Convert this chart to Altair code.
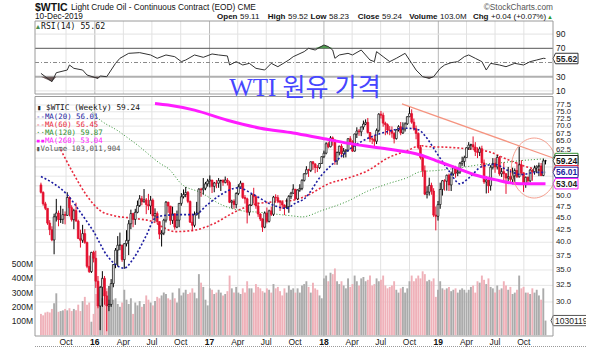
import altair as alt
import pandas as pd

# ---------------- data (weekly bars, week starting Monday 2015-07-13) ----------------
first_open = 52.74
closes = [
    50.89, 48.14, 47.12, 43.87, 42.50, 40.45, 45.22, 46.05, 44.63, 44.68, 45.70, 45.54, 49.63, 47.26, 44.60, 46.59,
    44.29, 40.74, 40.39, 41.71, 39.97, 35.62, 34.73, 38.10, 37.04,
    33.16, 29.42, 32.19, 33.62, 30.89, 29.44, 29.64, 32.78, 35.92, 38.50, 39.44, 39.46, 36.79, 39.72, 40.36, 43.73,
    45.92, 44.66, 46.21, 47.75, 49.33, 48.62, 49.07, 47.98, 47.64, 48.99, 45.41, 45.95, 44.19, 41.60, 41.80, 44.49,
    48.52, 47.64, 44.44, 45.88, 43.03, 44.48, 48.24, 49.81, 50.35, 50.85, 48.70, 44.07, 43.41, 45.69, 46.06, 51.68,
    51.50, 51.90, 53.02, 53.72,
    53.99, 52.37, 53.22, 53.17, 53.83, 53.86, 53.40, 53.99, 53.33, 48.49, 48.78, 47.97, 50.60, 52.24, 53.18, 49.62,
    49.33, 46.22, 47.84, 50.33, 49.80, 47.66, 45.83, 44.74, 43.01, 46.04, 44.23, 46.54, 45.77, 49.71, 49.58, 48.82,
    48.51, 47.87, 47.29, 47.48, 49.89, 50.66, 51.67, 49.29, 51.45, 51.84, 53.90, 55.64, 56.74, 56.55, 58.95, 58.36,
    57.36, 57.30, 58.47, 60.42,
    61.44, 64.30, 63.37, 66.14, 65.45, 59.20, 61.68, 63.55, 61.25, 62.04, 62.34, 65.88, 64.94, 62.06, 67.39, 68.38,
    68.10, 69.72, 70.70, 71.28, 67.88, 65.81, 65.74, 65.06, 68.58, 74.15, 73.80, 71.01, 70.46, 68.69, 68.49, 67.63,
    65.91, 68.72, 69.80, 67.75, 68.99, 70.78, 73.25, 74.34, 71.34, 69.12, 67.59, 63.14, 60.19, 56.46, 50.42, 50.93,
    52.61, 51.20, 45.59, 45.33,
    47.96, 51.59, 53.80, 53.69, 55.26, 52.72, 55.59, 57.26, 55.80, 56.07, 58.52, 59.04, 60.14, 63.08, 63.89, 64.00,
    63.30, 61.94, 61.66, 62.76, 58.63, 53.50, 54.00, 52.51, 57.43, 58.47, 57.51, 60.21, 55.63, 56.20, 55.66, 54.50,
    54.87, 54.17, 55.10, 56.52, 54.85, 58.09, 55.91, 52.81, 54.70, 53.78, 56.66, 56.20, 57.24, 57.72, 57.77, 55.17,
    59.20, 59.24,
]
highs = [
    53.3, 51.1, 48.6, 46.8, 44.5, 43.2, 45.9, 49.3, 46.6, 47.7, 47.0, 46.4, 50.9, 49.9, 47.8, 47.0, 48.4, 44.6, 42.5,
    43.5, 42.6, 40.1, 37.5, 38.2, 38.4,
    38.4, 34.0, 32.4, 34.8, 34.0, 31.6, 32.4, 33.5, 36.0, 38.9, 41.2, 41.9, 39.5, 39.8, 42.4, 44.5, 46.8, 46.1, 47.0,
    48.9, 50.2, 50.0, 51.7, 49.5, 50.5, 50.0, 49.4, 47.1, 46.4, 44.2, 42.4, 44.8, 48.8, 48.6, 47.6, 47.5, 46.0, 46.6,
    48.3, 50.7, 51.6, 52.2, 51.2, 48.9, 45.9, 46.4, 48.6, 51.9, 52.0, 54.5, 53.5, 54.3,
    55.2, 54.0, 53.5, 54.0, 54.5, 54.1, 54.2, 54.9, 54.5, 53.8, 49.1, 49.2, 50.9, 52.9, 53.8, 53.2, 50.2, 49.6, 48.0,
    50.5, 52.0, 50.2, 48.5, 46.0, 44.9, 46.4, 47.3, 46.8, 47.5, 50.0, 50.4, 50.2, 49.0, 48.6, 48.0, 49.4, 50.2, 51.0,
    52.9, 51.7, 51.6, 52.9, 54.2, 55.8, 57.7, 57.0, 59.0, 59.1, 58.5, 58.0, 58.6, 60.5,
    62.2, 64.8, 64.9, 66.7, 66.6, 65.6, 61.9, 63.7, 64.2, 63.0, 62.6, 66.0, 66.7, 65.4, 67.5, 69.6, 69.0, 69.8, 71.9,
    72.3, 72.8, 68.0, 66.3, 67.1, 69.2, 74.5, 75.3, 74.7, 71.5, 70.9, 70.0, 69.9, 67.9, 69.0, 70.3, 71.4, 71.3, 71.3,
    73.4, 76.9, 75.9, 72.6, 70.2, 67.9, 63.9, 60.7, 57.9, 52.4, 54.6, 53.3, 51.9, 47.5,
    48.8, 53.3, 54.0, 54.2, 55.4, 55.7, 56.2, 57.8, 57.8, 57.4, 58.9, 60.4, 60.7, 63.2, 64.8, 64.3, 66.6, 64.8, 63.2,
    63.4, 63.7, 59.6, 55.0, 54.8, 58.0, 60.0, 60.0, 60.9, 60.6, 57.2, 58.8, 55.8, 57.5, 56.9, 57.3, 57.1, 58.8, 63.4,
    59.4, 56.0, 54.9, 54.9, 56.9, 56.9, 57.9, 57.9, 58.7, 58.6, 59.8, 59.5,
]
lows = [
    50.6, 47.7, 46.7, 43.5, 41.4, 40.2, 37.75, 44.2, 43.2, 43.9, 43.7, 43.6, 45.4, 45.3, 44.2, 42.6, 44.2, 40.6, 38.99,
    39.9, 39.7, 35.3, 34.5, 34.5, 36.3,
    32.1, 29.1, 26.19, 29.3, 29.6, 26.05, 28.7, 29.3, 32.2, 35.3, 35.6, 38.5, 36.4, 35.2, 39.2, 37.6, 42.6, 43.0, 43.5,
    46.0, 47.4, 47.8, 48.4, 45.8, 46.7, 45.8, 44.4, 44.2, 43.7, 40.6, 39.19, 41.4, 44.0, 46.1, 43.5, 43.7, 42.5, 42.8,
    43.0, 47.7, 49.4, 49.7, 48.3, 43.9, 42.2, 43.0, 45.5, 44.8, 49.8, 50.3, 51.4, 52.3,
    52.1, 50.7, 50.9, 51.9, 52.0, 51.2, 52.5, 53.1, 52.6, 48.3, 47.1, 47.0, 47.1, 50.2, 52.1, 49.3, 48.2, 43.8, 45.5,
    47.7, 48.2, 47.0, 45.2, 44.3, 42.05, 42.8, 43.8, 44.0, 45.4, 45.4, 48.4, 48.3, 46.5, 47.0, 45.6, 47.0, 46.1, 49.3,
    50.5, 49.1, 49.0, 51.0, 51.4, 53.6, 55.5, 54.8, 56.1, 56.7, 55.8, 56.1, 56.9, 58.4,
    60.0, 61.1, 62.9, 63.2, 63.7, 58.1, 58.1, 60.8, 60.2, 60.1, 60.2, 61.9, 64.2, 61.8, 61.9, 66.1, 66.8, 66.7, 68.8,
    70.3, 67.5, 64.8, 64.2, 63.6, 64.2, 67.9, 72.6, 69.8, 67.0, 67.3, 67.0, 66.2, 64.4, 65.6, 68.2, 67.0, 67.4, 68.2,
    70.4, 73.1, 70.8, 68.5, 65.7, 62.6, 59.6, 54.8, 50.2, 49.4, 50.1, 50.3, 45.2, 42.36,
    44.4, 47.0, 50.1, 51.3, 51.3, 51.2, 51.2, 55.1, 54.6, 55.0, 55.6, 57.8, 57.6, 60.1, 62.4, 62.5, 62.5, 60.6, 60.0,
    60.6, 57.3, 53.0, 50.6, 50.7, 51.3, 56.8, 55.9, 56.8, 55.1, 54.8, 53.6, 50.5, 53.7, 53.5, 52.9, 53.0, 54.5, 54.6,
    55.3, 50.99, 52.0, 52.8, 53.4, 53.8, 55.4, 55.8, 55.0, 55.0, 55.0, 58.2,
]
volumes_m = [
    150, 140, 160, 165, 160, 185, 225, 295, 165, 170, 175, 185, 175, 190, 170, 185, 175, 215, 170, 240, 270, 215, 230, 95, 150,
    290, 300, 320, 260, 300, 330, 250, 240, 250, 260, 220, 200, 230, 320, 250, 220, 260, 150, 230, 210, 240, 200, 220, 280,
    250, 230, 210, 240, 270, 260, 280, 300, 290, 260, 250, 300, 260, 230, 330, 280, 300, 320, 290, 300, 330, 300, 260, 430,
    370, 340, 250, 210,
    330, 320, 290, 300, 320, 300, 280, 290, 310, 420, 330, 300, 340, 300, 290, 330, 300, 380, 330, 330, 300, 360, 340, 330,
    310, 300, 330, 320, 300, 360, 330, 340, 310, 280, 330, 300, 350, 320, 330, 300, 330, 300, 350, 360, 380, 340, 300, 370,
    330, 320, 280, 260,
    400, 420, 380, 440, 430, 470, 380, 360, 380, 350, 330, 400, 340, 360, 420, 380, 350, 400, 410, 380, 390, 420, 350, 360,
    400, 380, 390, 420, 350, 330, 340, 350, 380, 320, 300, 330, 340, 300, 330, 380, 420, 380, 400, 420, 400, 450, 430, 380,
    390, 380, 400, 270,
    320, 380, 330, 320, 330, 340, 310, 320, 330, 300, 320, 330, 320, 300, 320, 340, 350, 300, 380, 370, 420, 390, 360, 400,
    340, 330, 300, 350, 320, 330, 380, 350, 320, 340, 290, 300, 320, 420, 330, 340, 300, 300, 290, 330, 300, 320, 280, 250,
    330, 103,
]

# indicator readings (week index, value)
rsi_idx = [0, 5, 7, 12, 13, 15, 19, 21, 26, 27, 30, 34, 36, 40, 45, 50, 53, 57, 61, 64, 66, 70, 74, 78, 81, 85, 86, 89,
           92, 95, 98, 102, 105, 108, 113, 115, 120, 122, 125, 129, 131, 133, 134, 136, 140, 142, 146, 150, 152, 153,
           156, 159, 162, 166, 169, 171, 174, 177, 179, 182, 184, 187, 190, 193, 195, 198, 201, 203, 205, 209, 212,
           216, 220, 223, 226, 229, 230]
rsi_val = [34.7, 23, 35.6, 39.4, 46.5, 41.8, 39.4, 32.4, 27.6, 31, 30, 48.8, 55.9, 62.9, 63.9, 60.6, 55.9, 60.6, 58.2,
           51.2, 53.5, 60.6, 57.3, 62, 60.6, 59.2, 46.5, 51.2, 46.5, 48.8, 41.8, 39.4, 48.8, 44.1, 53.5, 58.2, 65.3, 70,
           67.6, 74.7, 72.4, 67.6, 55.9, 60.6, 62.9, 60.6, 67.6, 53.5, 51.2, 65.3, 58.2, 51.2, 55.9, 62.9, 48.8, 39.4,
           30, 27.6, 30, 41.8, 46.5, 49.8, 51.2, 58.2, 60.6, 55.9, 51.2, 39.4, 48.8, 46.5, 44.1, 48.8, 46.5, 51.2, 53.5,
           55.9, 55.62]

ma20_idx = [0, 6, 12, 18, 24, 30, 38, 42, 48, 52, 56, 64, 70, 76, 82, 90, 97, 105, 112, 116, 120, 128, 136, 143, 149,
            158, 166, 172, 176, 180, 186, 191, 195, 201, 207, 213, 219, 225, 230]
ma20_val = [54.9, 53.0, 50.3, 46.2, 42.1, 37.6, 35.3, 36.9, 41.3, 44.9, 45.5, 45.7, 45.7, 48.0, 50.3, 52.0, 50.3, 48.0,
            47.1, 48.3, 49.3, 55.3, 60.0, 63.7, 66.0, 68.2, 69.3, 68.8, 66.0, 61.9, 56.4, 53.0, 54.5, 57.6, 58.2, 56.5,
            55.4, 56.0, 56.01]
ma60_idx = [9, 15, 21, 27, 33, 42, 51, 56, 61, 70, 79, 88, 97, 106, 115, 122, 131, 140, 149, 158, 167, 173, 177, 186,
            195, 204, 213, 221, 229, 230]
ma60_val = [62.5, 55.5, 50.0, 46.6, 45.5, 44.9, 44.2, 42.9, 42.1, 42.4, 43.8, 46.2, 48.0, 48.6, 49.0, 50.3, 53.0, 54.5,
            56.5, 60.0, 62.2, 63.7, 63.4, 63.2, 62.7, 61.9, 59.5, 57.6, 56.5, 56.45]
ma120_idx = [22, 24, 36, 44, 55, 58, 64, 73, 82, 91, 100, 109, 115, 119, 128, 140, 149, 158, 167, 173, 180, 189, 201,
             210, 219, 229, 230]
ma120_val = [76.5, 74.4, 68.0, 63.9, 58.2, 57.1, 53.0, 50.8, 48.0, 46.6, 46.2, 45.7, 45.4, 45.2, 46.6, 48.8, 51.2, 53.0,
             54.6, 56.2, 56.5, 57.1, 58.2, 58.7, 59.3, 59.8, 59.87]
ma260_idx = [52, 58, 70, 85, 100, 115, 128, 143, 158, 173, 180, 189, 198, 207, 216, 222, 230]
ma260_val = [78.1, 77.5, 75.6, 72.0, 69.3, 67.7, 66.0, 64.1, 62.7, 60.9, 59.3, 57.3, 55.3, 54.1, 53.1, 53.05, 53.04]

trend_dates = ["2018-09-07", "2020-03-23"]
trend_vals = [77.9, 57.5]

price_ticks = [30.0, 32.5, 35.0, 37.5, 40.0, 42.5, 45.0, 47.5, 50.0, 52.5, 55.0, 57.5, 60.0, 62.5, 65.0, 67.5, 70.0,
               72.5, 75.0, 77.5]
price_ticks_covered = [52.5, 55.0, 57.5, 60.0]   # hidden behind the value tags in the reference
rsi_ticks = [10, 30, 50, 70, 90]
rsi_ticks_covered = [50]
vol_ticks = [100, 200, 300, 400, 500]
quarter_dates = ["2015-10-01", "2016-01-01", "2016-04-01", "2016-07-01", "2016-10-01", "2017-01-01", "2017-04-01",
                 "2017-07-01", "2017-10-01", "2018-01-01", "2018-04-01", "2018-07-01", "2018-10-01", "2019-01-01",
                 "2019-04-01", "2019-07-01", "2019-10-01"]
quarter_labels = ["Oct", "16", "Apr", "Jul", "Oct", "17", "Apr", "Jul", "Oct", "18", "Apr", "Jul", "Oct", "19", "Apr",
                  "Jul", "Oct"]

# ---------------- frames ----------------
weeks = pd.date_range("2015-07-13", periods=len(closes), freq="7D")
week_str = [d.strftime("%Y-%m-%d") for d in weeks]
opens = [first_open] + closes[:-1]
bars = pd.DataFrame({"date": week_str, "open": opens, "high": highs, "low": lows, "close": closes, "vol": volumes_m})
bars["dir"] = ["up" if c >= o else "down" for o, c in zip(opens, closes)]


def series(idx, vals):
    return pd.DataFrame({"date": [week_str[i] for i in idx], "v": vals})


rsi_df = series(rsi_idx, rsi_val)
one = pd.DataFrame({"k": [0]})
q_df = pd.DataFrame({"date": quarter_dates, "t": quarter_labels,
                     "jan": [lbl.isdigit() for lbl in quarter_labels]})
pt_df = pd.DataFrame({"v": price_ticks, "t": [f"{v:.1f}" for v in price_ticks]})
pt_lbl_df = pt_df[~pt_df["v"].isin(price_ticks_covered)]
rt_df = pd.DataFrame({"v": rsi_ticks, "t": [str(v) for v in rsi_ticks]})
rt_lbl_df = rt_df[~rt_df["v"].isin(rsi_ticks_covered)]
vt_df = pd.DataFrame({"v": vol_ticks, "t": [f"{v}M" for v in vol_ticks]})

PX, PY = 35, 21  # plot origin in page pixels
FONT = "Liberation Sans"
MONO = "DejaVu Sans Mono"

xs = alt.Scale(type="utc", domain=[alt.DateTime(year=2015, month=7, date=10, utc=True),
                                   alt.DateTime(year=2019, month=12, date=17, utc=True)])
ps = alt.Scale(type="log", domain=[25.55, 80.0], range=[314.3, 77.4], nice=False)
rs = alt.Scale(domain=[10, 90], range=[69.9, 13.1], nice=False, zero=False)
vs = alt.Scale(domain=[0, 500], range=[314.2, 243.2], nice=False, zero=True)

X0 = alt.X("date:T", scale=xs, axis=None)


def absx(x):
    return alt.value(x - PX)


def absy(y):
    return alt.value(y - PY)


def Yp(f):
    return alt.Y(f, type="quantitative", scale=ps, axis=None)


def Yr(f):
    return alt.Y(f, type="quantitative", scale=rs, axis=None)


def Yv(f):
    return alt.Y(f, type="quantitative", scale=vs, axis=None)


jan_color = alt.condition("datum.jan", alt.value("#b8b8b8"), alt.value("#e2e2e2"))

# ---------------- grid group (price scale) ----------------
price_grid = alt.Chart(pt_df).mark_rule(color="#e6e6e6", strokeWidth=1).encode(
    x=absx(35), x2=absx(553), y=Yp("v"))
xgrid_rsi = alt.Chart(q_df).mark_rule(strokeWidth=1).encode(
    x=X0, y=absy(21), y2=absy(94), color=jan_color)
xgrid_price = alt.Chart(q_df).mark_rule(strokeWidth=1).encode(
    x=X0, y=absy(96.5), y2=absy(336), color=jan_color)
price_lbl = alt.Chart(pt_lbl_df).mark_text(align="left", baseline="middle", fontSize=7.8, font=FONT,
                                           color="#222222").encode(x=absx(556), y=Yp("v"), text="t:N")
xlbl_bold = alt.Chart(q_df).transform_filter("datum.jan").mark_text(
    align="center", baseline="middle", fontSize=8.5, font=FONT, fontWeight="bold", color="#111111").encode(
    x=X0, y=absy(342), text="t:N")
xlbl_norm = alt.Chart(q_df).transform_filter("!datum.jan").mark_text(
    align="center", baseline="middle", fontSize=8.5, font=FONT, color="#222222").encode(
    x=X0, y=absy(342), text="t:N")
grid_group = alt.layer(price_grid, xgrid_rsi, xgrid_price, price_lbl, xlbl_bold, xlbl_norm)

# ---------------- volume group ----------------
vol_bars = alt.Chart(bars).mark_bar(size=1.9).encode(
    x=X0, y=Yv("vol"),
    color=alt.condition("datum.dir == 'up'", alt.value("#ababab"), alt.value("#efb1b9")),
)
vol_lbl = alt.Chart(vt_df).mark_text(align="right", baseline="middle", fontSize=8.5, font=FONT,
                                     color="#222222").encode(x=absx(33), y=Yv("v"), text="t:N")
vol_tag_df = pd.DataFrame({"v": [103.0], "t": ["103011904"]})
vol_tag_box = alt.Chart(vol_tag_df).mark_point(
    shape="M -1 0 L -0.88 -0.27 L 1 -0.27 L 1 0.27 L -0.88 0.27 Z", size=1444, filled=True,
    fill="white", stroke="#555", strokeWidth=1, opacity=1).encode(x=absx(570), y=Yv("v"))
vol_tag_txt = alt.Chart(vol_tag_df).mark_text(align="left", baseline="middle", fontSize=8.5,
                                                font=FONT, color="#222").encode(x=absx(555), y=Yv("v"), text="t:N")
vol_group = alt.layer(vol_bars, vol_lbl, vol_tag_box, vol_tag_txt)

# ---------------- price group ----------------
wick = alt.Chart(bars).mark_rule(strokeWidth=1).encode(
    x=X0, y=Yp("low"), y2="high:Q",
    color=alt.condition("datum.dir == 'up'", alt.value("#000000"), alt.value("#e4102e")),
)
body = alt.Chart(bars).mark_bar(size=1.8, strokeWidth=0.7).encode(
    x=X0, y=Yp("open"), y2="close:Q",
    fill=alt.condition("datum.dir == 'up'", alt.value("#ffffff"), alt.value("#e4102e")),
    stroke=alt.condition("datum.dir == 'up'", alt.value("#000000"), alt.value("#e4102e")),
)


def ma_line(idx, vals, color, width, dash=None):
    kw = dict(color=color, strokeWidth=width, interpolate="monotone")
    if dash:
        kw["strokeDash"] = dash
    return alt.Chart(series(idx, vals)).mark_line(**kw).encode(x=X0, y=Yp("v"))


ma120 = ma_line(ma120_idx, ma120_val, "#2f8f2f", 1, [1, 2])
ma60 = ma_line(ma60_idx, ma60_val, "#e8283c", 1.6, [2, 2])
ma20 = ma_line(ma20_idx, ma20_val, "#1c1ca0", 1.6, [2, 2])
ma260 = ma_line(ma260_idx, ma260_val, "#ff1cff", 3)

trend = alt.Chart(pd.DataFrame({"date": trend_dates, "v": trend_vals})).mark_line(
    color="#f59480", strokeWidth=1.2).encode(x=X0, y=Yp("v"))
circle = alt.Chart(pd.DataFrame({"date": ["2019-11-03"], "v": [57.2]})).mark_point(
    shape="M -0.76 0 A 0.76 1 0 1 0 0.76 0 A 0.76 1 0 1 0 -0.76 0 Z", size=3600, filled=False,
    stroke="#f5a090", strokeWidth=1, opacity=1).encode(x=X0, y=Yp("v"))

TAG = "M -1 0 L -0.8 -0.42 L 1 -0.42 L 1 0.42 L -0.8 0.42 Z"


def tag(value, label, border, textcolor, yfun, show_text=True):
    d = pd.DataFrame({"v": [value], "t": [label]})
    out = [alt.Chart(d).mark_point(shape=TAG, size=625, filled=True, fill="white", stroke=border,
                                   strokeWidth=1, opacity=1).encode(x=absx(565.5), y=yfun("v"))]
    if show_text:
        out.append(alt.Chart(d).mark_text(align="left", baseline="middle", fontSize=8.5, fontWeight="bold",
                                          font=FONT, color=textcolor).encode(x=absx(556), y=yfun("v"),
                                                                             text="t:N"))
    return out


price_tags = (tag(59.87, "59.87", "#2f8f2f", "#2f8f2f", Yp, show_text=False)
              + tag(59.24, "59.24", "#222222", "#111111", Yp)
              + tag(56.45, "56.45", "#e8283c", "#e8283c", Yp, show_text=False)
              + tag(56.01, "56.01", "#1c1ca0", "#1c1ca0", Yp)
              + tag(53.04, "53.04", "#ff1cff", "#222222", Yp))
price_group = alt.layer(ma120, ma60, wick, body, ma20, ma260, trend, circle, *price_tags)

# ---------------- RSI group ----------------
rsi_base = alt.Chart(rsi_df).transform_calculate(lo="min(datum.v, 30)", hi="max(datum.v, 70)")
rsi_low = rsi_base.mark_area(color="#6e5a5a").encode(x=X0, y=Yr("lo"), y2=alt.datum(30))
rsi_high = rsi_base.mark_area(color="#4f9a4f").encode(x=X0, y=Yr("hi"), y2=alt.datum(70))


def rsi_rule(level, color, width, dash=None):
    kw = dict(color=color, strokeWidth=width)
    if dash:
        kw["strokeDash"] = dash
    return alt.Chart(pd.DataFrame({"lv": [level]})).mark_rule(**kw).encode(
        x=absx(35), x2=absx(553), y=Yr("lv"))


r90 = rsi_rule(90, "#e2e2e2", 1)
r10 = rsi_rule(10, "#e2e2e2", 1)
r70 = rsi_rule(70, "#555555", 1)
r50 = rsi_rule(50, "#8a8a8a", 1, [4, 2, 1, 2])
r30 = rsi_rule(30, "#b0b0b0", 2)
rsi_line = alt.Chart(rsi_df).mark_line(color="#333333", strokeWidth=1).encode(x=X0, y=Yr("v"))
rsi_lbl = alt.Chart(rt_lbl_df).mark_text(align="left", baseline="middle", fontSize=8.5, font=FONT,
                                         color="#222222").encode(x=absx(556), y=Yr("v"), text="t:N")
rsi_group = alt.layer(r90, r10, r70, r50, r30, rsi_low, rsi_high, rsi_line, rsi_lbl,
                      *tag(55.62, "55.62", "#333333", "#222222", Yr))


# ---------------- text / frames ----------------
def label(text, x, y, size=8.5, weight="normal", color="#111111", align="left", font=FONT):
    return alt.Chart(one).mark_text(text=text, align=align, baseline="middle", fontSize=size, fontWeight=weight,
                                    color=color, font=font).encode(x=absx(x), y=absy(y))


def frame(x1, y1, x2, y2, stroke="#9a9a9a", fill="#ffffff", fill_opacity=0.0, sw=1):
    return alt.Chart(one).mark_rect(stroke=stroke, strokeWidth=sw, fill=fill, fillOpacity=fill_opacity).encode(
        x=absx(x1), x2=absx(x2), y=absy(y1), y2=absy(y2))


L2 = 16.5
LG = 7.4
texts = [
    frame(35, 21, 553, 94),
    frame(35, 96.5, 553, 336),
    frame(586, 310, 607, 331, stroke="#ffffff", fill_opacity=1.0, sw=0),
    alt.Chart(one).mark_rule(color="#9a9a9a", strokeDash=[1, 1]).encode(
        x=absx(35), x2=absx(586), y=absy(346.5)),
    label("$WTIC", 35, 7.5, size=10.5, weight="bold"),
    label("Light Crude Oil - Continuous Contract (EOD) CME", 71, 7.5, size=8.3),
    label("©StockCharts.com", 553, 7.5, size=8.3, color="#555555", align="right"),
    label("10-Dec-2019", 35, L2, size=8.3),
    label("Open", 237.5, L2, size=8, weight="bold", align="right"), label("59.11", 240, L2, size=8),
    label("High", 285.5, L2, size=8, weight="bold", align="right"), label("59.52", 288, L2, size=8),
    label("Low", 326.5, L2, size=8, weight="bold", align="right"), label("58.23", 329, L2, size=8),
    label("Close", 379.5, L2, size=8, weight="bold", align="right"), label("59.24", 382, L2, size=8),
    label("Volume", 437.5, L2, size=8, weight="bold", align="right"), label("103.0M", 440, L2, size=8),
    label("Chg", 488.5, L2, size=8, weight="bold", align="right"), label("+0.04 (+0.07%)", 491, L2, size=8),
    label("▲", 553, L2, size=6, color="#2f9a2f", align="right"),
    label("▲", 38, 26.5, size=7, color="#4f8f4f", align="center"),
    label("RSI(14) 55.62", 41, 26.5, size=8.2, font=MONO),
    label("▮", 37, 108.3, size=LG, font=MONO, color="#222222"),
    label("$WTIC (Weekly) 59.24", 46, 108.3, size=7.8, font=MONO),
    label("--MA(20) 56.01", 36, 116.6, size=LG, font=MONO, color="#1c1ca0"),
    label("--MA(60) 56.45", 36, 124.6, size=LG, font=MONO, color="#e8283c"),
    label("··MA(120) 59.87", 36, 132.6, size=LG, font=MONO, color="#2f8f2f"),
    label("▪▪MA(260) 53.04", 36, 140.6, size=LG, font=MONO, color="#ff1cff"),
    label("▮Volume 103,011,904", 36, 148.6, size=LG, font=MONO, color="#555555"),
    label("WTI 원유 가격", 305, 88, size=25, color="#4646ff", align="center",
          font="Liberation Serif, Noto Sans CJK KR"),
]
misc_group = alt.layer(*texts)

chart = alt.layer(grid_group, vol_group, price_group, rsi_group, misc_group).resolve_scale(
    y="independent").properties(
    width=518, height=315,
    autosize=alt.AutoSizeParams(type="none"),
    padding={"left": PX, "top": PY, "right": 54, "bottom": 12},
    background="#ffffff",
).configure_view(stroke=None)

chart.save("out.html", embed_options={"renderer": "svg", "actions": False})
